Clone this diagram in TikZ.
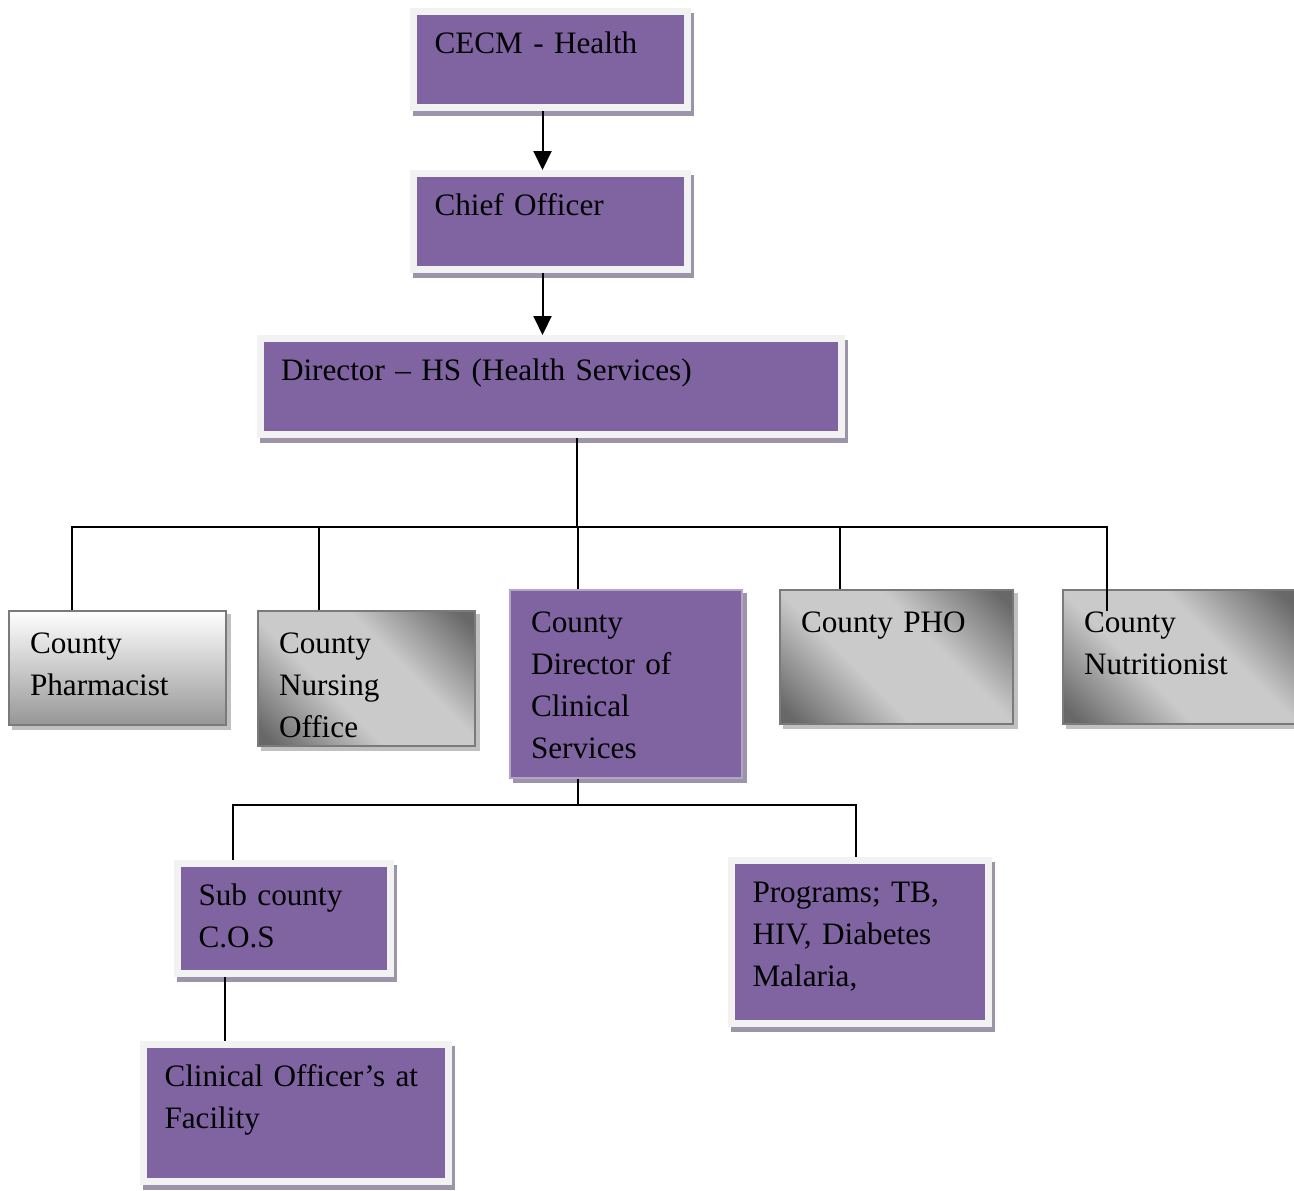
\documentclass[tikz,border=0pt]{standalone}
\usepackage{fontspec}
\setmainfont{Liberation Serif}
\usetikzlibrary{arrows.meta,shadows}
\definecolor{orgpurple}{RGB}{128,100,162}
\definecolor{framegray}{RGB}{242,242,242}
\definecolor{purpleshadow}{RGB}{156,148,168}
\definecolor{greyborder}{RGB}{122,122,122}
\definecolor{greyshadow}{RGB}{192,192,192}
\definecolor{lavender}{RGB}{180,164,204}
\definecolor{gdark}{RGB}{104,104,104}
\definecolor{glight}{RGB}{202,202,202}
\definecolor{pharmgrey}{RGB}{150,150,150}
\pgfdeclarehorizontalshading{greydiag}{100bp}{color(0bp)=(gdark); color(18bp)=(gdark); color(40bp)=(glight); color(60bp)=(glight); color(82bp)=(gdark); color(100bp)=(gdark)}

\tikzset{
  boxtext/.style={font=\fontsize{15.6}{21}\selectfont, align=left, text height=11pt,
    inner xsep=10.5pt, inner ysep=10pt},
  boxsize/.style 2 args={text width=#1, text depth=#2},
  framedbox/.style={boxtext, fill=orgpurple, draw=framegray, line width=3.5pt,
    drop shadow={shadow xshift=1.5pt, shadow yshift=-2.5pt, fill=purpleshadow,
      draw=purpleshadow, line width=3.5pt, opacity=1}},
  greybox/.style={boxtext, draw=greyborder, line width=1pt,
    drop shadow={shadow xshift=2pt, shadow yshift=-2pt, fill=greyshadow,
      draw=greyshadow, line width=1pt, opacity=1}},
  diagbox/.style={greybox, shading=greydiag, shading angle=45},
  headbox/.style={boxtext, fill=orgpurple, draw=lavender, line width=1pt,
    drop shadow={shadow xshift=2pt, shadow yshift=-2pt, fill=purpleshadow,
      draw=purpleshadow, line width=1pt, opacity=1}},
  orgarrow/.style={-{Triangle[width=9pt,length=9.5pt]}, line width=1pt},
  tree/.style={line width=0.75pt},
}

\begin{document}
\begin{tikzpicture}[x=0.5pt,y=-0.5pt]
  \useasboundingbox (0,0) rectangle (1294,1190);

  % top of the chart
  \node[framedbox, boxsize={116pt}{17pt}] (cecm) at (550.5,59.5) {CECM - Health};
  \node[framedbox, boxsize={116pt}{17pt}] (chief) at (550.5,221.5) {Chief Officer};
  \node[framedbox, boxsize={269.5pt}{17pt}] (director) at (550.5,386.5)
    {Director – HS (Health Services)};

  % county heads
  \node[greybox, top color=white, bottom color=pharmgrey, boxsize={87.5pt}{26pt}]
    (pharm) at (117.5,668) {County\\Pharmacist};
  \node[diagbox, boxsize={87.5pt}{36.5pt}] (nursing) at (366.5,678.5)
    {County\\Nursing\\Office};
  \node[headbox, boxsize={95pt}{63pt}] (clinical) at (626,684)
    {County\\Director of\\Clinical\\Services};
  \node[diagbox, boxsize={95.5pt}{36pt}] (pho) at (896.5,657) {County PHO};
  \node[diagbox, boxsize={95.5pt}{36pt}] (nutri) at (1179.5,657)
    {County\\Nutritionist};

  % clinical services
  \node[framedbox, boxsize={85.5pt}{24pt}] (subcos) at (284,918.5)
    {Sub county\\C.O.S};
  \node[framedbox, boxsize={107.5pt}{50.5pt}] (programs) at (860,942)
    {Programs; TB,\\HIV, Diabetes\\Malaria,};
  \node[framedbox, boxsize={131.5pt}{37.5pt}] (facility) at (296,1113)
    {Clinical Officer’s at\\Facility};

  % connectors
  \draw[orgarrow] ([xshift=-4pt]cecm.south) -- ([xshift=-4pt]chief.north);
  \draw[orgarrow] ([xshift=-4pt]chief.south) -- ([xshift=-4pt]director.north);

  \coordinate (hsbus) at (577,527);
  \draw[tree] (director.south -| hsbus) -- (hsbus);
  \foreach \n/\dx in {pharm/-22.75pt, nursing/-23.75pt, clinical/-24pt, pho/-28.25pt}
    \draw[tree] ([xshift=\dx]\n.north) |- (hsbus);
  \draw[tree] ([xshift=-36.25pt,yshift=-11pt]nutri.north) |- (hsbus);

  \coordinate (cdbus) at (578,805);
  \draw[tree] ([xshift=-24pt]clinical.south) -- (cdbus);
  \draw[tree] ([xshift=-25.5pt]subcos.north) |- (cdbus);
  \draw[tree] ([xshift=-2pt]programs.north) |- (cdbus);

  \coordinate (cosdrop) at ([xshift=-29.5pt]subcos.south);
  \draw[tree] (cosdrop) -- (cosdrop |- facility.north);
\end{tikzpicture}
\end{document}
